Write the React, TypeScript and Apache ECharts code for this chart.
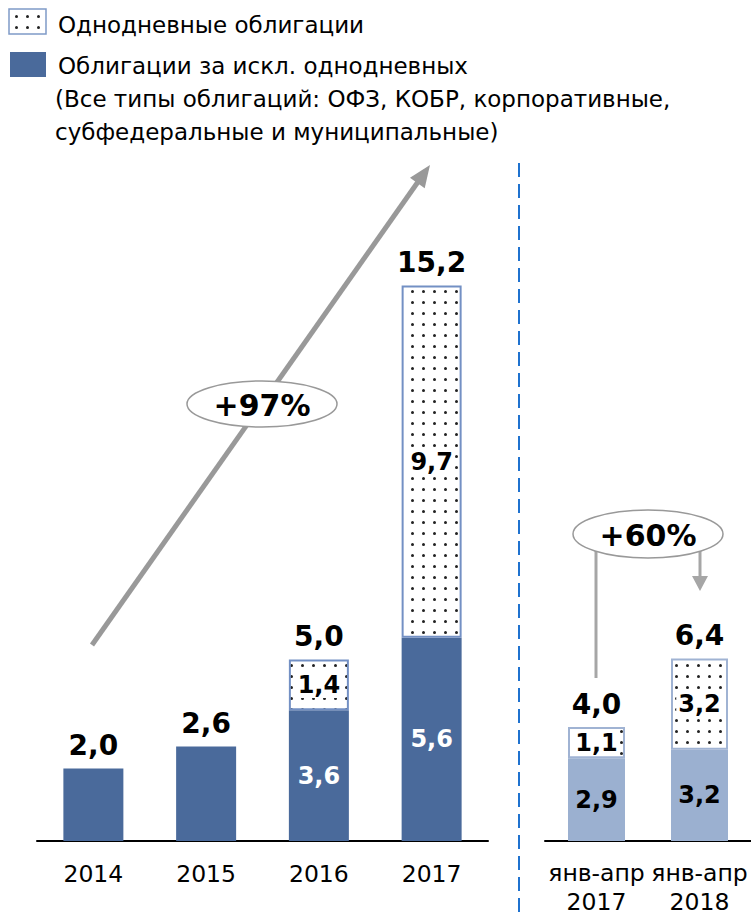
import React, { useEffect, useRef } from 'react';
import * as echarts from 'echarts';

const yearCats = ['2014', '2015', '2016', '2017'];
const yearBase = [2.0, 2.6, 3.6, 5.6];
const yearOneDay = [null, null, 1.4, 9.7];
const yearTotal = [2.0, 2.6, 5.0, 15.2];

const periodCats = ['янв-апр\n2017', 'янв-апр\n2018'];
const periodBase = [2.9, 3.2];
const periodOneDay = [1.1, 3.2];
const periodTotal = [4.0, 6.4];

const legendNames = ['Однодневные облигации', 'Облигации за искл. однодневных'];
const legendNote = ['(Все типы облигаций: ОФЗ, КОБР, корпоративные,', 'субфедеральные и муниципальные)'];
const growthLabels = ['+97%', '+60%'];

const REG = '"DejaVu Sans", sans-serif';
const BOLD = '"DejaVu Sans", sans-serif';
const DARK = '#4A6A9B';
const LIGHT = '#9BB0D0';

const fmt = (v: number) => v.toFixed(1).replace('.', ',');

function arrowHead(x1: number, y1: number, x2: number, y2: number, len: number, half: number) {
  const dx = x2 - x1, dy = y2 - y1, L = Math.hypot(dx, dy);
  const ux = dx / L, uy = dy / L;
  const bx = x2 - ux * len, by = y2 - uy * len;
  return [[x2, y2], [bx - uy * half, by + ux * half], [bx + uy * half, by - ux * half]];
}

function makePattern() {
  const c = document.createElement('canvas');
  c.width = 11; c.height = 11;
  const ctx = c.getContext('2d')!;
  ctx.fillStyle = '#ffffff';
  ctx.fillRect(0, 0, 11, 11);
  ctx.fillStyle = '#222222';
  ctx.beginPath();
  ctx.arc(5.5, 5.5, 1.5, 0, Math.PI * 2);
  ctx.fill();
  return { image: c, repeat: 'repeat' } as any;
}

export default function App() {
  const ref = useRef<HTMLDivElement>(null);
  useEffect(() => {
    if (!ref.current) return;
    const chart = echarts.init(ref.current, null, { renderer: 'svg' });
    const pattern = makePattern();

    const innerLabel = (color: string) => ({
      show: true,
      position: 'inside',
      color,
      fontFamily: BOLD,
      fontWeight: 'bold',
      fontSize: 24,
      formatter: (p: any) => fmt(p.value),
    });
    const patLabel = {
      show: true,
      position: 'inside',
      color: '#000',
      fontFamily: BOLD,
      fontWeight: 'bold',
      fontSize: 24,
      backgroundColor: '#fff',
      padding: [1, 2, 1, 2],
      formatter: (p: any) => fmt(p.value),
    };
    const totalLabel = (totals: number[]) => ({
      show: true,
      position: 'top',
      distance: 9,
      color: '#000',
      fontFamily: BOLD,
      fontWeight: 'bold',
      fontSize: 28,
      formatter: (p: any) => fmt(totals[p.dataIndex]),
    });

    const axisLine = { lineStyle: { color: '#000', width: 2 } };

    chart.setOption({
      animation: false,
      backgroundColor: '#fff',
      grid: [
        { left: 37, width: 451, top: 115, bottom: 76, outerBoundsMode: 'none', containLabel: false },
        { left: 545, width: 206, top: 271, bottom: 76, outerBoundsMode: 'none', containLabel: false },
      ],
      xAxis: [
        {
          type: 'category', gridIndex: 0, data: yearCats, axisLine, axisTick: { show: false },
          axisLabel: { color: '#000', fontFamily: REG, fontSize: 23.5, lineHeight: 30, margin: 18, interval: 0 },
        },
        {
          type: 'category', gridIndex: 1, data: periodCats, axisLine, axisTick: { show: false },
          axisLabel: { color: '#000', fontFamily: REG, fontSize: 23.5, lineHeight: 29, margin: 17, interval: 0, hideOverlap: false },
        },
      ],
      yAxis: [
        { type: 'value', gridIndex: 0, min: 0, max: 20, show: false },
        { type: 'value', gridIndex: 1, min: 0, max: 20, show: false },
      ],
      series: [
        {
          type: 'bar', xAxisIndex: 0, yAxisIndex: 0, stack: 'L', barWidth: 60,
          itemStyle: { color: DARK },
          label: innerLabel('#fff'),
          data: yearBase.map((v, i) => ({ value: v, label: { show: yearOneDay[i] != null } })),
        },
        {
          type: 'bar', xAxisIndex: 0, yAxisIndex: 0, stack: 'L', barWidth: 60,
          itemStyle: { color: pattern, borderColor: '#7390C4', borderWidth: 2 },
          label: patLabel,
          data: yearOneDay,
        },
        {
          type: 'bar', xAxisIndex: 0, yAxisIndex: 0, stack: 'L', barWidth: 60,
          itemStyle: { color: 'rgba(0,0,0,0)' },
          label: totalLabel(yearTotal),
          data: yearTotal.map(() => 0),
        },
        {
          type: 'bar', xAxisIndex: 1, yAxisIndex: 1, stack: 'R', barWidth: 57,
          itemStyle: { color: LIGHT },
          label: innerLabel('#000'),
          data: periodBase,
        },
        {
          type: 'bar', xAxisIndex: 1, yAxisIndex: 1, stack: 'R', barWidth: 57,
          itemStyle: { color: pattern, borderColor: '#A0B3D3', borderWidth: 2 },
          label: patLabel,
          data: periodOneDay,
        },
        {
          type: 'bar', xAxisIndex: 1, yAxisIndex: 1, stack: 'R', barWidth: 57,
          itemStyle: { color: 'rgba(0,0,0,0)' },
          label: totalLabel(periodTotal),
          data: periodTotal.map(() => 0),
        },
      ],
      graphic: [
        // legend
        { type: 'rect', shape: { x: 9, y: 9, width: 37, height: 25 }, style: { fill: pattern, stroke: '#7F9BC8', lineWidth: 1.5 } },
        { type: 'text', x: 58, y: 24.5, style: { text: legendNames[0], font: `23px ${REG}`, fill: '#000', textVerticalAlign: 'middle' } },
        { type: 'rect', shape: { x: 10, y: 52, width: 36, height: 25 }, style: { fill: DARK } },
        { type: 'text', x: 58, y: 66, style: { text: legendNames[1], font: `23px ${REG}`, fill: '#000', textVerticalAlign: 'middle' } },
        { type: 'text', x: 55, y: 99, style: { text: legendNote[0], font: `23px ${REG}`, fill: '#000', textVerticalAlign: 'middle' } },
        { type: 'text', x: 55, y: 132, style: { text: legendNote[1], font: `23px ${REG}`, fill: '#000', textVerticalAlign: 'middle' } },
        // separator
        { type: 'line', shape: { x1: 519, y1: 163, x2: 519, y2: 917 }, style: { stroke: '#1F72CF', lineWidth: 2, lineDash: [14, 7] } },
        // big growth arrow
        { type: 'line', shape: { x1: 92, y1: 645, x2: 420, y2: 179 }, style: { stroke: '#999', lineWidth: 5 } },
        { type: 'polygon', shape: { points: arrowHead(92, 645, 430, 165, 22, 9) }, style: { fill: '#999' } },
        { type: 'ellipse', shape: { cx: 262, cy: 404, rx: 75, ry: 23 }, style: { fill: '#fff', stroke: '#999', lineWidth: 1.5 } },
        { type: 'text', x: 262, y: 405, style: { text: growthLabels[0], font: `bold 30px ${BOLD}`, fill: '#000', textAlign: 'center', textVerticalAlign: 'middle' } },
        // right growth connectors
        { type: 'line', shape: { x1: 596, y1: 545, x2: 596, y2: 678 }, style: { stroke: '#A6A6A6', lineWidth: 3 } },
        { type: 'line', shape: { x1: 700, y1: 545, x2: 700, y2: 578 }, style: { stroke: '#A6A6A6', lineWidth: 3 } },
        { type: 'polygon', shape: { points: [[692, 576], [708, 576], [700, 591]] }, style: { fill: '#A6A6A6' } },
        { type: 'ellipse', shape: { cx: 648, cy: 534, rx: 75, ry: 24 }, style: { fill: '#fff', stroke: '#999', lineWidth: 1.5 } },
        { type: 'text', x: 648, y: 535, style: { text: growthLabels[1], font: `bold 30px ${BOLD}`, fill: '#000', textAlign: 'center', textVerticalAlign: 'middle' } },
      ],
    });
    return () => chart.dispose();
  }, []);
  return <div ref={ref} style={{ position: 'fixed', left: 0, top: 0, width: 751, height: 917 }} />;
}
